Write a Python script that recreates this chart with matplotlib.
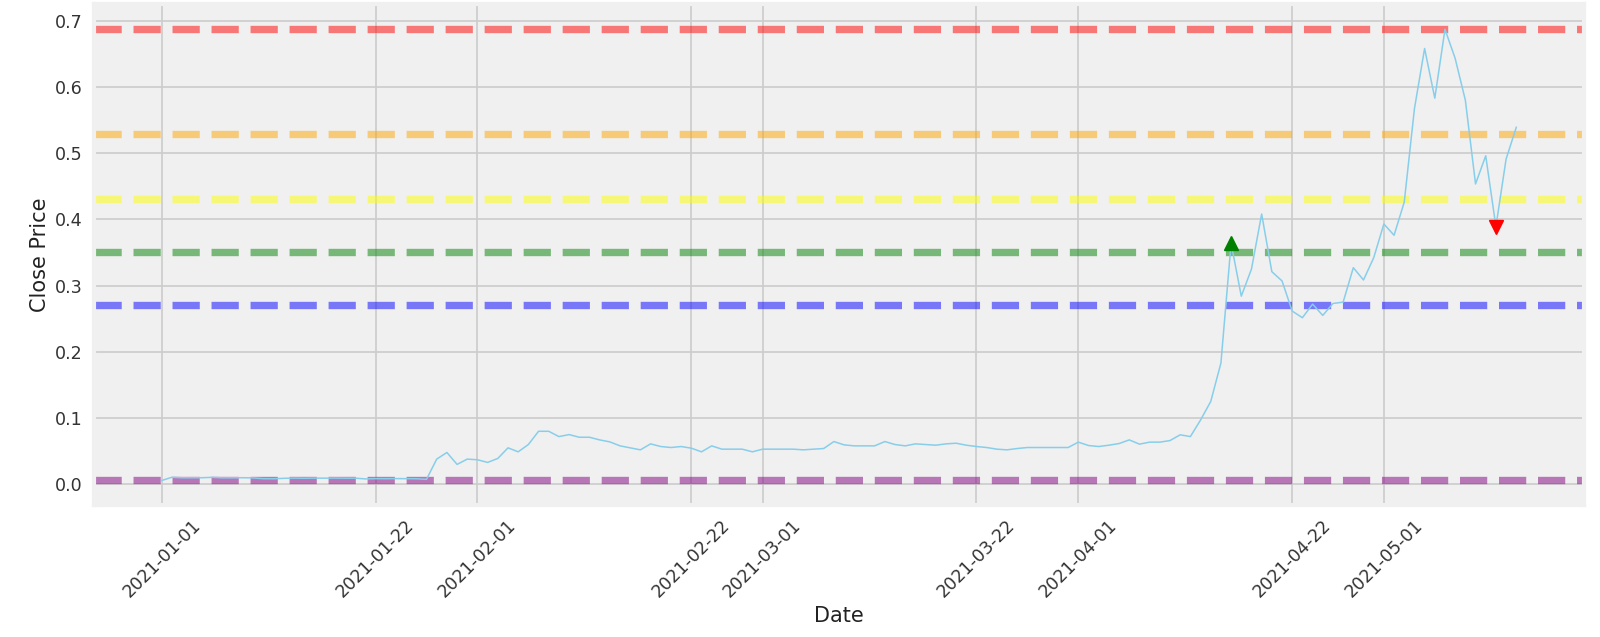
import pandas as pd
import matplotlib.pyplot as plt
import matplotlib.dates as mdates

# daily close, 2021-01-01 .. 2021-05-14
dates = pd.date_range('2021-01-01', '2021-05-14', freq='D')
close = [0.0057, 0.0106, 0.0098, 0.0098, 0.0099, 0.0105, 0.0097, 0.0098, 0.0099, 0.0096,
         0.0084, 0.0083, 0.0090, 0.0093, 0.0091, 0.0093, 0.0092, 0.0094, 0.0092, 0.0092,
         0.0081, 0.0085, 0.0084, 0.0086, 0.0084, 0.0083, 0.0075,
         0.038, 0.048, 0.030, 0.038, 0.037, 0.033, 0.039, 0.055, 0.049, 0.060,
         0.080, 0.080, 0.072, 0.075, 0.071, 0.071, 0.067, 0.064, 0.058, 0.055,
         0.052, 0.061, 0.057, 0.0555, 0.057, 0.0545, 0.049, 0.058, 0.053, 0.053,
         0.053, 0.049,
         0.053, 0.053, 0.053, 0.053, 0.052, 0.053, 0.054, 0.0645, 0.0595, 0.058,
         0.058, 0.058, 0.0645, 0.060, 0.058, 0.061, 0.060, 0.059, 0.061, 0.062,
         0.059, 0.057, 0.0555, 0.053, 0.052, 0.054, 0.0555, 0.0555, 0.0555, 0.0555,
         0.0555,
         0.0636, 0.0585, 0.057, 0.059, 0.0615, 0.067, 0.0606, 0.0636, 0.0636, 0.066,
         0.0747, 0.072, 0.097, 0.125, 0.183, 0.364,
         0.284, 0.325, 0.408, 0.321, 0.307, 0.2615, 0.2515, 0.272, 0.255, 0.273,
         0.275, 0.327, 0.3085, 0.342, 0.393, 0.376, 0.426, 0.567, 0.658, 0.583,
         0.687, 0.643, 0.580, 0.4535, 0.496, 0.389, 0.491, 0.539]
df = pd.Series(close, index=dates)

# fibonacci levels (max, 0.236, 0.382, 0.5, 0.618, min)
levels = [0.687, 0.529, 0.430, 0.350, 0.270, 0.007]
level_colors = ['red', 'orange', 'yellow', 'green', 'blue', 'purple']

buy_date = pd.Timestamp('2021-04-16')
sell_date = pd.Timestamp('2021-05-12')

fig = plt.figure(figsize=(16, 6.37), dpi=100)
ax = fig.add_axes([94/1600, 1 - 505/637, (1584 - 94)/1600, (505 - 4)/637])
ax.set_facecolor('#f0f0f0')

ax.plot(df.index, df.values, color='skyblue', lw=1.1, zorder=3)
for lvl, c in zip(levels, level_colors):
    ax.axhline(lvl, linestyle='--', color=c, alpha=0.5, lw=5.3, zorder=2)

ax.plot([buy_date], [df[buy_date]], '^', color='green', ms=9.5, zorder=4)
ax.plot([sell_date], [df[sell_date]], 'v', color='red', ms=9.5, zorder=4)

ax.set_ylim(-0.0313, 0.7252)
ax.xaxis.set_major_locator(mdates.DayLocator(bymonthday=[1, 22]))
ax.xaxis.set_major_formatter(mdates.DateFormatter('%Y-%m-%d'))
ax.grid(True, color='#cbcbcb', lw=1.2, zorder=0)
ax.set_axisbelow(True)
for s in ax.spines.values():
    s.set_color('#f0f0f0')
    s.set_linewidth(3)
ax.tick_params(length=0, labelsize=12.6, colors='#333333', pad=8)
plt.setp(ax.get_xticklabels(), rotation=45)
ax.set_xlabel('Date', fontsize=15, color='#222222')
ax.set_ylabel('Close Price', fontsize=15, color='#222222', labelpad=4)

fig.savefig('out.png', dpi=100, facecolor='white')
